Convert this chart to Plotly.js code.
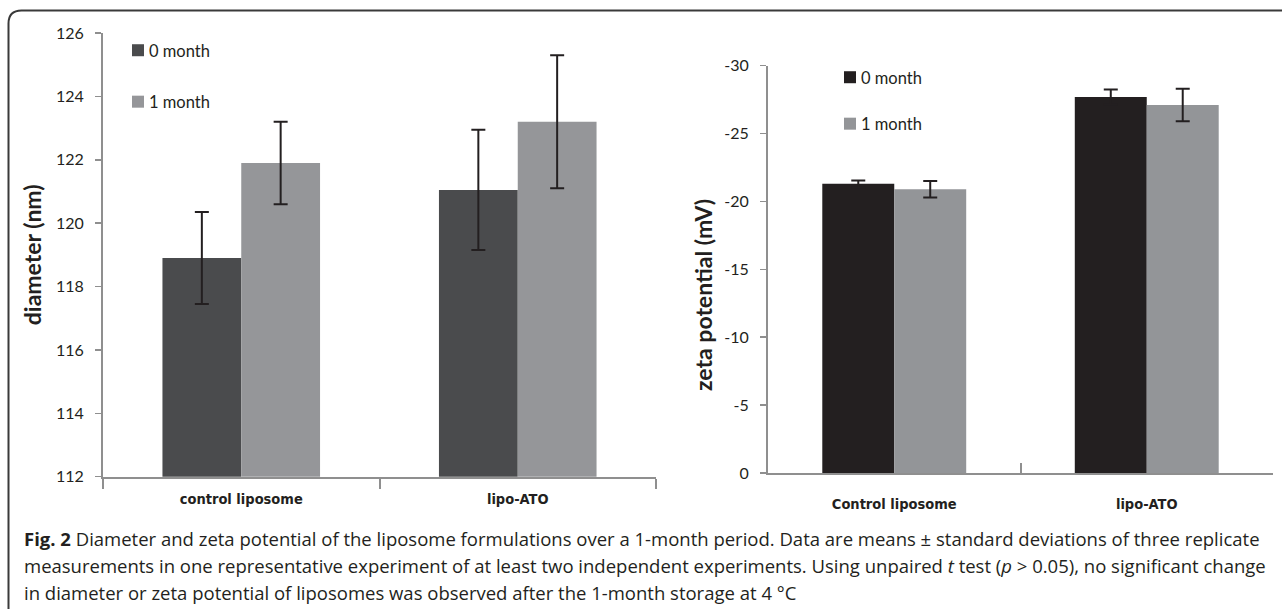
<!DOCTYPE html>
<html>
<head>
<meta charset="utf-8">
<script src="https://cdn.plot.ly/plotly-3.0.1.min.js"></script>
<style>html,body{margin:0;padding:0;background:#fff;}#chart{width:1282px;height:609px;}</style>
</head>
<body>
<div id="chart"></div>
<script>
// ---- data ----
const categoriesLeft = ["control liposome", "lipo-ATO"];
const categoriesRight = ["Control liposome", "lipo-ATO"];
const seriesNames = ["0 month", "1 month"];
const diameter0 = [118.9, 121.05];
const diameter0Err = [1.45, 1.9];
const diameter1 = [121.9, 123.2];
const diameter1Err = [1.3, 2.1];
const zeta0 = [-21.3, -27.7];
const zeta0Err = [0.25, 0.55];
const zeta1 = [-20.9, -27.1];
const zeta1Err = [0.6, 1.2];
const zetaTickVals = [0, -5, -10, -15, -20, -25, -30];
const zetaTickText = ["0", "-5", "-10", "-15", "-20", "-25", "-30"];
const captionLines = [
  "<b>Fig. 2</b> Diameter and zeta potential of the liposome formulations over a 1-month period. Data are means ± standard deviations of three replicate",
  "measurements in one representative experiment of at least two independent experiments. Using unpaired <i>t</i> test (<i>p</i> > 0.05), no significant change",
  "in diameter or zeta potential of liposomes was observed after the 1-month storage at 4 °C"
];

// ---- layout helpers (pixel -> paper) ----
const W = 1282, H = 609;
const px = x => x / W;
const py = y => (H - y) / H;

const axisGrey = '#8f8f8f';
const ink = '#231f20';
const tickFont = {family: 'Lato, "Open Sans", sans-serif', size: 16, color: ink};
const catFont = {family: '"Liberation Sans Narrow", "DejaVu Sans Condensed", sans-serif', size: 14.5, color: ink, weight: 700};
const titleFont = {family: 'Lato, "Open Sans", sans-serif', size: 23, color: ink, weight: 700};
const legFont = {family: 'Lato, "Open Sans", sans-serif', size: 16.5, color: ink};

function bar(x, y, err, name, color, xa, ya, leg, grp) {
  return {
    type: 'bar', x: x, y: y, name: name,
    xaxis: xa, yaxis: ya, legend: leg, legendgroup: grp,
    marker: {color: color, line: {width: 0}},
    error_y: {type: 'data', array: err, visible: true, color: ink, thickness: 2, width: 7},
    hoverinfo: 'skip'
  };
}

const data = [
  bar(categoriesLeft, diameter0, diameter0Err, seriesNames[0], '#4a4b4d', 'x', 'y', 'legend', 'a'),
  bar(categoriesLeft, diameter1, diameter1Err, seriesNames[1], '#959699', 'x', 'y', 'legend', 'b'),
  bar(categoriesRight, zeta0, zeta0Err, seriesNames[0], '#231f20', 'x2', 'y2', 'legend2', 'c'),
  bar(categoriesRight, zeta1, zeta1Err, seriesNames[1], '#939598', 'x2', 'y2', 'legend2', 'd')
];

const r = 13, fx = 8.5, fy = 10.5;
const framePath = `M ${px(fx)} ${py(H + 5)} L ${px(fx)} ${py(fy + r)} Q ${px(fx)} ${py(fy)} ${px(fx + r)} ${py(fy)} L ${px(W + 10)} ${py(fy)}`;

const layout = {
  width: W, height: H,
  margin: {l: 0, r: 0, t: 0, b: 0},
  paper_bgcolor: '#ffffff', plot_bgcolor: 'rgba(0,0,0,0)',
  barmode: 'group', bargap: 0.43, bargroupgap: 0,
  showlegend: true,
  xaxis: {
    domain: [px(103), px(656)], anchor: 'y',
    showline: true, linecolor: axisGrey, linewidth: 2,
    ticks: 'outside', tickson: 'boundaries', ticklen: 10, tickcolor: axisGrey, tickwidth: 2,
    tickfont: catFont, showgrid: false, zeroline: false, fixedrange: true, ticklabelstandoff: 8
  },
  yaxis: {
    domain: [py(476.7), py(33)], anchor: 'x',
    range: [112, 126], dtick: 2, tick0: 112,
    showline: true, linecolor: axisGrey, linewidth: 2,
    ticks: 'outside', ticklen: 6, tickcolor: axisGrey, tickwidth: 1.5,
    tickfont: tickFont, showgrid: false, zeroline: false, ticklabelstandoff: 8,
    title: {text: 'diameter (nm)', font: titleFont, standoff: 8}
  },
  xaxis2: {
    domain: [px(768), px(1273)], anchor: 'y2',
    showline: true, linecolor: axisGrey, linewidth: 2,
    ticks: 'inside', tickson: 'boundaries', ticklen: 10, tickcolor: axisGrey, tickwidth: 2,
    tickfont: catFont, showgrid: false, zeroline: false, ticklabelstandoff: 17
  },
  yaxis2: {
    domain: [py(473), py(65.7)], anchor: 'x2',
    range: [0, -30], tickmode: 'array', tickvals: zetaTickVals, ticktext: zetaTickText,
    showline: true, linecolor: axisGrey, linewidth: 2,
    ticks: 'outside', ticklen: 6, tickcolor: axisGrey, tickwidth: 1.5,
    tickfont: tickFont, showgrid: false, zeroline: false, ticklabelstandoff: 8
  },
  legend: {
    x: px(118), y: py(33), xanchor: 'left', yanchor: 'top',
    bgcolor: 'rgba(0,0,0,0)', borderwidth: 0, font: legFont,
    tracegroupgap: 27, traceorder: 'grouped'
  },
  legend2: {
    x: px(830), y: py(60), xanchor: 'left', yanchor: 'top',
    bgcolor: 'rgba(0,0,0,0)', borderwidth: 0, font: legFont,
    tracegroupgap: 22, traceorder: 'grouped'
  },
  shapes: [
    {type: 'path', xref: 'paper', yref: 'paper', path: framePath, line: {color: '#3a3a3a', width: 2}}
  ],
  annotations: [
    {
      xref: 'paper', yref: 'paper', x: px(703), y: py(295), textangle: -90,
      xanchor: 'center', yanchor: 'middle', showarrow: false,
      text: 'zeta potential (mV)', font: titleFont
    }
  ].concat(captionLines.map((t, i) => ({
    xref: 'paper', yref: 'paper', x: px(22), y: py(538 + i * 27),
    xanchor: 'left', yanchor: 'middle', showarrow: false, align: 'left',
    text: t, font: {family: '"Open Sans", "Noto Sans", sans-serif', size: 18.5, color: ink}
  })))
};

// pull legend labels closer to their swatches (both legends), as in the original figure
function tightenLegend() {
  document.querySelectorAll('#chart .infolayer g.traces text').forEach(t => {
    if (!t.hasAttribute('data-x0')) t.setAttribute('data-x0', t.getAttribute('x'));
    t.setAttribute('x', String(parseFloat(t.getAttribute('data-x0')) - 9));
  });
}

Plotly.newPlot('chart', data, layout, {displayModeBar: false, staticPlot: true}).then(gd => {
  tightenLegend();
  gd.on('plotly_afterplot', tightenLegend);
  setTimeout(tightenLegend, 50);
});
</script>
</body>
</html>
